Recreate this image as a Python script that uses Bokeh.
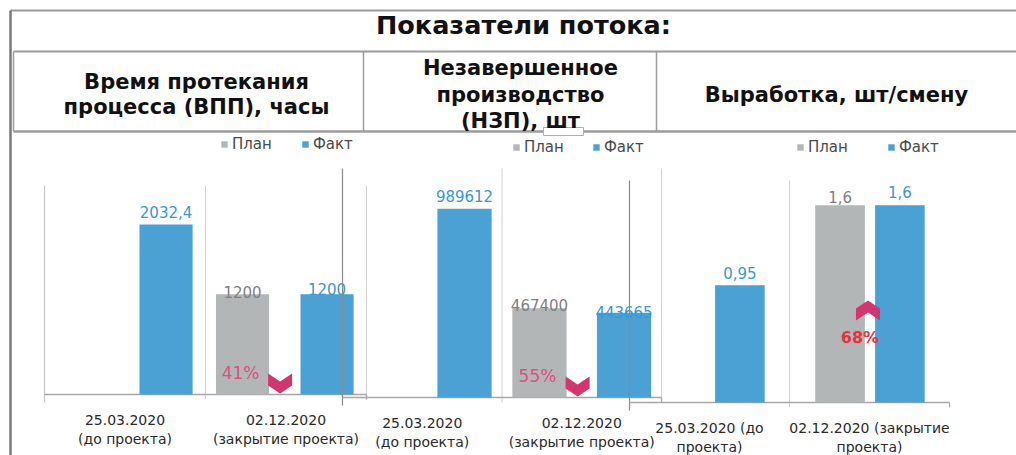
import math
from bokeh.plotting import figure
from bokeh.models import Range1d, Legend, LegendItem, ColumnDataSource
from bokeh.core.properties import value
from bokeh.embed import file_html
from bokeh.resources import INLINE

# ---------------- data ----------------
title = "Показатели потока:"
header_col1 = ["Время протекания", "процесса (ВПП), часы"]
header_col2 = ["Незавершенное", "производство", "(НЗП), шт"]
header_col3 = ["Выработка, шт/смену"]
series_names = ["План", "Факт"]
cats_a = ["25.03.2020\n(до проекта)", "02.12.2020\n(закрытие проекта)"]
cats_b = ["25.03.2020 (до\nпроекта)", "02.12.2020 (закрытие\nпроекта)"]
vpp_plan = [float("nan"), 1200]
vpp_fact = [2032.4, 1200]
nzp_plan = [float("nan"), 467400]
nzp_fact = [989612, 443665]
vyr_plan = [float("nan"), 1.6]
vyr_fact = [0.95, 1.6]
changes = ["41%", "55%", "68%"]
change_dirs = ["down", "down", "up"]

# ---------------- style / layout ----------------
FONT = "DejaVu Sans"
BLUE = "#4BA1D3"
GREY = "#B3B6B7"
BLUE_TXT = "#3A97D0"
GREY_TXT = "#808080"
PINK = "#D3356F"
FW, FH = 1016, 455
X0, Y0 = 0, 0

panels = [
    dict(cats=cats_a, plan=vpp_plan, fact=vpp_fact, left=44, cw=161, base=394, top=185, ymax=2500,
         bw=0.33, off=(0.23, 0.755), gap_plan=[0, 2], gap_fact=[13, 5], first_col="#C4C4C4",
         lines=[0, 1, 2], leg=(220, 145, 29), pct_col="#D9527F", pct_bold=False, pct_size="17px"),
    dict(cats=cats_a, plan=nzp_plan, fact=nzp_fact, left=342, cw=159.5, base=397, top=168, ymax=1.2e6,
         bw=0.34, off=(0.235, 0.765), gap_plan=[0, 3], gap_fact=[13, 1], first_col="#8A8A8A",
         lines=[0, 1, 2], leg=(512, 148, 28), pct_col="#D9527F", pct_bold=False, pct_size="17px"),
    dict(cats=cats_b, plan=vyr_plan, fact=vyr_fact, left=629, cw=160, base=402, top=180, ymax=1.8,
         bw=0.31, off=(0.316, 0.69), gap_plan=[0, 8], gap_fact=[12, 13], first_col="#8A8A8A",
         lines=[0, 1], leg=(796, 148, 39), pct_col="#E8323C", pct_bold=True, pct_size="16px"),
]


def fmt(v):
    return f"{v:g}".replace(".", ",")


p = figure(width=FW, height=FH, x_range=Range1d(X0, X0 + FW), y_range=Range1d(Y0 + FH, Y0),
           output_backend="svg", toolbar_location=None, x_axis_location=None, y_axis_location=None,
           min_border=0, border_fill_color="white", background_fill_color="white")
p.grid.visible = False
p.outline_line_color = None

# ---------------- frame / header ----------------
FRAME = "#9C9C9C"
RIGHT = X0 + FW
p.segment(x0=[10], y0=[10], x1=[RIGHT], y1=[10], line_color=FRAME, line_width=2)
p.segment(x0=[10], y0=[10], x1=[10], y1=[Y0 + FH], line_color="#7A7A7A", line_width=2.5)
p.segment(x0=[13], y0=[51], x1=[RIGHT], y1=[51], line_color=FRAME, line_width=2)
p.segment(x0=[13], y0=[131], x1=[RIGHT], y1=[131], line_color=FRAME, line_width=2.5)
p.segment(x0=[13, 363, 656], y0=[51, 51, 51], x1=[13, 363, 656], y1=[131, 131, 131],
          line_color=FRAME, line_width=1.5)
p.rect(x=[563], y=[131], width=40, height=8, fill_color="white", line_color="#B0B0B0", line_width=1)

p.text(x=[523], y=[24], text=[title], text_font=value(FONT), text_font_style="bold",
       text_font_size="25.5px", text_align="center", text_baseline="middle", text_color="#111111")
hdr_x = [196, 520, 836]
hdr_y = [[81, 106], [67, 94, 120], [94]]
for hx, hys, lines in zip(hdr_x, hdr_y, [header_col1, header_col2, header_col3]):
    p.text(x=[hx] * len(lines), y=hys, text=lines, text_font=value(FONT), text_font_style="bold",
           text_font_size="21px", text_align="center", text_baseline="middle", text_color="#111111")

# ---------------- panels ----------------
for k, P in enumerate(panels):
    name = f"p{k}"
    s = (P["base"] - P["top"]) / P["ymax"]
    p.extra_x_ranges[name] = Range1d((X0 - P["left"]) / P["cw"], (X0 + FW - P["left"]) / P["cw"])
    p.extra_y_ranges[name] = Range1d(-(Y0 + FH - P["base"]) / s, (P["base"] - Y0) / s)
    kw = dict(x_range_name=name, y_range_name=name)
    n = len(P["cats"])
    tick = 5 / s

    # vertical boundary lines
    ls = P["lines"]
    p.segment(x0=ls[1:], y0=[-tick] * (len(ls) - 1), x1=ls[1:], y1=[P["ymax"]] * (len(ls) - 1),
              line_color="#D2D2D2", line_width=1, **kw)
    p.segment(x0=[0], y0=[-tick * 1.6], x1=[0], y1=[P["ymax"]], line_color=P["first_col"], line_width=1.2, **kw)
    p.segment(x0=[n], y0=[-tick], x1=[n], y1=[0], line_color="#A6A6A6", line_width=1.2, **kw)
    # baseline
    p.segment(x0=[0], y0=[0], x1=[n], y1=[0], line_color="#A6A6A6", line_width=1.5, **kw)

    xs_plan = [i + P["off"][0] for i in range(n)]
    xs_fact = [i + P["off"][1] for i in range(n)]
    r_plan = p.vbar(x=xs_plan, top=P["plan"], width=P["bw"], bottom=0, fill_color=GREY,
                    line_color=None, **kw)
    r_fact = p.vbar(x=xs_fact, top=P["fact"], width=P["bw"], bottom=0, fill_color=BLUE,
                    line_color=None, **kw)

    # data labels
    pv = [(x, v, g) for x, v, g in zip(xs_plan, P["plan"], P["gap_plan"]) if not math.isnan(v)]
    p.text(x=[a[0] for a in pv], y=[a[1] for a in pv], text=[fmt(a[1]) for a in pv],
           y_offset=[-a[2] for a in pv], text_font=value(FONT), text_font_size="15px",
           text_align="center", text_baseline="alphabetic", text_color=GREY_TXT, **kw)
    fv = list(zip(xs_fact, P["fact"], P["gap_fact"]))
    p.text(x=[a[0] for a in fv], y=[a[1] for a in fv], text=[fmt(a[1]) for a in fv],
           y_offset=[-a[2] for a in fv], text_font=value(FONT), text_font_size="15px",
           text_align="center", text_baseline="alphabetic", text_color=BLUE_TXT, **kw)

    # category labels
    p.text(x=[i + 0.5 for i in range(n)], y=[0] * n, text=P["cats"], y_offset=17,
           text_font=value(FONT), text_font_size="14px", text_align="center",
           text_baseline="top", text_line_height=1.2, text_color="#2A2A2A", **kw)

    # legend
    lx, lcy, lsp = P["leg"]
    legend = Legend(items=[LegendItem(label=series_names[0], renderers=[r_plan]),
                           LegendItem(label=series_names[1], renderers=[r_fact])],
                    location=(lx - X0, Y0 + FH - (lcy + 8)), orientation="horizontal",
                    glyph_width=8, glyph_height=8, label_standoff=4, spacing=lsp,
                    padding=0, margin=0, border_line_color=None, background_fill_alpha=0,
                    label_text_font=FONT, label_text_font_size="15px", label_text_color="#4A4A4A",
                    label_height=16, label_text_baseline="middle")
    p.add_layout(legend)

    # change annotation (chevron + percent)
    cw, left, base = P["cw"], P["left"], P["base"]
    plan_c = left + cw * (1 + P["off"][0])
    plan_r = plan_c + cw * P["bw"] / 2
    fact_l = left + cw * (1 + P["off"][1] - P["bw"] / 2)
    if change_dirs[k] == "down":
        cx, yt = plan_r + 11, base - 21
        xs = [cx - 12, cx, cx + 12, cx + 12, cx, cx - 12]
        ys = [yt, yt + 8, yt, yt + 12, yt + 20, yt + 12]
        tx, ty = plan_c - 2, base - 22
    else:
        cx, yt = (plan_r + fact_l) / 2 - 2, base - 102
        xs = [cx - 12, cx, cx + 12, cx + 12, cx, cx - 12]
        ys = [yt + 20, yt + 12, yt + 20, yt + 8, yt, yt + 8]
        tx, ty = cx - 8, base - 65
    p.patch(x=xs, y=ys, fill_color=PINK, line_color=None)
    p.text(x=[tx], y=[ty], text=[changes[k]], text_font=value(FONT),
           text_font_style="bold" if P["pct_bold"] else "normal", text_font_size=P["pct_size"],
           text_align="center", text_baseline="middle", text_color=P["pct_col"])

open("out.html", "w").write(file_html(p, INLINE))
